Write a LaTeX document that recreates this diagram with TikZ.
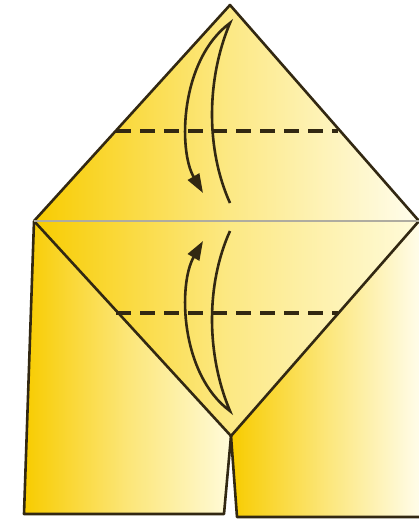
\documentclass[tikz,border=0pt]{standalone}
\usepackage{tikz}
\usetikzlibrary{arrows.meta}

\definecolor{gold}{RGB}{248,204,0}
\definecolor{pale}{RGB}{255,251,218}
\definecolor{ink}{RGB}{50,40,18}
\definecolor{seam}{RGB}{175,172,160}

\begin{document}
\begin{tikzpicture}[x=1pt, y=-1pt,
    outline/.style={ink, line width=2.6pt, line join=round},
    crease/.style={ink, line width=3.2pt, dash pattern=on 15pt off 9pt},
    foldarrow/.style={ink, line width=2.6pt, line join=miter, -{Triangle[length=19pt,width=13pt]}}]
    \useasboundingbox (0,0) rectangle (419,525);
    \fill[white] (0,0) rectangle (419,525);

    % corners of the model
    \coordinate (apex) at (230,5);
    \coordinate (lc) at (34,221);
    \coordinate (rc) at (419,221);
    \coordinate (tip) at (231,436);

    % the two flaps at the bottom
    \shade[left color=gold, right color=pale, middle color=gold!45!pale] (lc) -- (24,514) -- (224,514) -- (tip) -- cycle;
    \shade[left color=gold, right color=pale!60!white, middle color=gold!45!pale] (tip) -- (237,517) -- (419,517) -- (419,221) -- cycle;
    \draw[outline] (lc) -- (24,514) -- (224,514) -- (tip);
    \draw[outline] (tip) -- (237,517) -- (419,517);

    % lower triangle
    \shade[left color=gold, right color=pale, middle color=gold!40!pale] (lc) -- (tip) -- (rc) -- cycle;
    \draw[outline] (lc) -- (tip) -- (rc);

    % upper triangle
    \shade[left color=gold, right color=pale!50!white, middle color=gold!40!pale] (apex) -- (lc) -- (rc) -- cycle;
    \draw[outline] (lc) -- (apex) -- (rc);
    \draw[seam, line width=2.4pt] (lc) -- (rc);

    % fold lines
    \draw[crease] (116,131) -- (338,131);
    \draw[crease] (116,313) -- (338,313);

    % fold arrows
    \draw[foldarrow] (230,203) .. controls (206,150) and (206,80) .. (230,23)
        .. controls (180,60) and (178,150) .. (203,193);
    \draw[foldarrow] (230,231) .. controls (206,284) and (206,354) .. (230,411)
        .. controls (180,374) and (178,284) .. (203,241);
\end{tikzpicture}
\end{document}
